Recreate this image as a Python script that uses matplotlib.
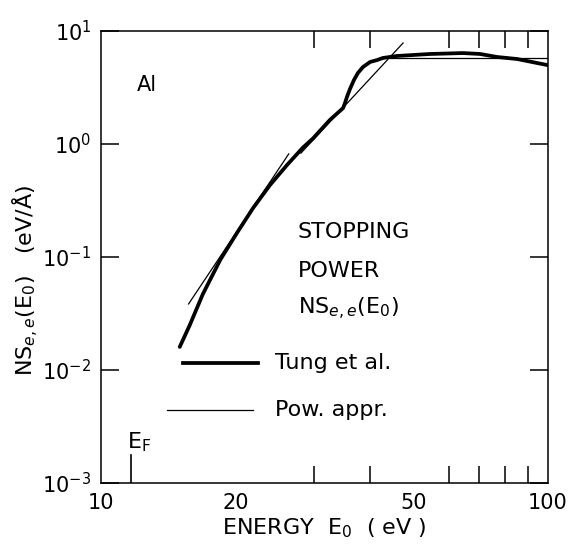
import matplotlib
matplotlib.use("Agg")
import matplotlib.pyplot as plt
from matplotlib.ticker import FixedLocator, FixedFormatter, NullLocator

plt.rcParams['font.family'] = ['DejaVu Sans']
plt.rcParams['mathtext.fontset'] = 'dejavusans'

# Tung et al. stopping power (thick curve)
tung_E = [15.0, 15.8, 16.9, 18.5, 20.2, 21.9, 23.9, 26.1, 28.3, 29.8, 32.5, 34.8,
          35.15, 35.5, 36.06, 36.8, 37.56, 38.55, 40.0, 41.45, 42.7, 45.9, 54.4,
          64.5, 70.5, 76.9, 85.3, 94.5, 99.5]
tung_S = [0.0160, 0.0250, 0.0470, 0.095, 0.166, 0.272, 0.435, 0.655, 0.93, 1.12,
          1.63, 2.08, 2.31, 2.61, 3.07, 3.68, 4.25, 4.80, 5.32, 5.53, 5.77, 6.01,
          6.26, 6.38, 6.26, 5.89, 5.65, 5.21, 5.00]

# Power approximations (thin lines)
pow1_E = [15.7, 26.3]
pow1_S = [0.0384, 0.817]
pow2_E = [28.0, 47.4]
pow2_S = [0.83, 7.83]
pow3_E = [44.0, 100.0]
pow3_S = [5.8, 5.8]

E_fermi = 11.7

x_ticks = [10, 20, 50, 100]
x_ticklabels = ['10', '20', '50', '100']
x_minor = [20, 30, 40, 50, 60, 70, 80, 90]
y_ticks = [1e-3, 1e-2, 1e-1, 1e0, 1e1]
y_ticklabels = [r'$\mathregular{10^{-3}}$', r'$\mathregular{10^{-2}}$',
                r'$\mathregular{10^{-1}}$', r'$\mathregular{10^{0}}$',
                r'$\mathregular{10^{1}}$']

fig = plt.figure(figsize=(5.74, 5.48), dpi=100)
ax = fig.add_axes([101/574, 1-483/548, 447/574, 452/548])
ax.set_xscale('log')
ax.set_yscale('log')
ax.set_xlim(10, 100)
ax.set_ylim(1e-3, 1e1)

ax.plot(tung_E, tung_S, color='black', lw=2.7, solid_capstyle='round',
        solid_joinstyle='round')
for ex, ey in [(pow1_E, pow1_S), (pow2_E, pow2_S), (pow3_E, pow3_S)]:
    ax.plot(ex, ey, color='black', lw=0.9)

# Fermi energy marker
ax.plot([E_fermi, E_fermi], [1e-3, 1.77e-3], color='black', lw=1.2)
ax.text(11.45, 2.04e-3, r'E$_\mathregular{F}$', fontsize=16,
        ha='left', va='baseline')

for s in ax.spines.values():
    s.set_linewidth(1.1)

ax.xaxis.set_major_locator(FixedLocator(x_ticks))
ax.xaxis.set_major_formatter(FixedFormatter(x_ticklabels))
ax.xaxis.set_minor_locator(FixedLocator(x_minor))
ax.yaxis.set_major_locator(FixedLocator(y_ticks))
ax.yaxis.set_major_formatter(FixedFormatter(y_ticklabels))
ax.yaxis.set_minor_locator(NullLocator())

ax.tick_params(axis='x', which='major', direction='in', length=0, pad=7,
               labelsize=15, top=True)
ax.tick_params(axis='x', which='minor', direction='in', length=12, width=1.1,
               top=True, labelbottom=False)
ax.tick_params(axis='y', which='major', direction='in', length=13, width=1.1,
               right=True, pad=7, labelsize=15)

ax.set_xlabel(r'ENERGY  E$_0$  ( eV )', fontsize=16)
ax.xaxis.set_label_coords(0.5, -0.1)
ax.xaxis.label.set_va('center')
ax.set_ylabel(r'NS$_{e,e}$(E$_0$)   (eV/Å)', fontsize=16)
ax.yaxis.set_label_coords(-0.168, 0.449)
ax.yaxis.label.set_va('center')

ax.text(0.08, 0.868, 'Al', transform=ax.transAxes, fontsize=15)
ax.text(0.44, 0.555, 'STOPPING', transform=ax.transAxes, fontsize=16, va='center')
ax.text(0.44, 0.47, 'POWER', transform=ax.transAxes, fontsize=16, va='center')
ax.text(0.44, 0.385, r'NS$_{e,e}$(E$_0$)', transform=ax.transAxes, fontsize=16,
        va='center')

# legend drawn as lines in axes coordinates
ax.plot([0.184, 0.352], [0.265, 0.265], transform=ax.transAxes, color='black', lw=2.7)
ax.plot([0.148, 0.340], [0.162, 0.162], transform=ax.transAxes, color='black', lw=0.9)
ax.text(0.39, 0.265, 'Tung et al.', transform=ax.transAxes, fontsize=16, va='center')
ax.text(0.39, 0.162, 'Pow. appr.', transform=ax.transAxes, fontsize=16, va='center')

fig.savefig('out.png', dpi=100)
